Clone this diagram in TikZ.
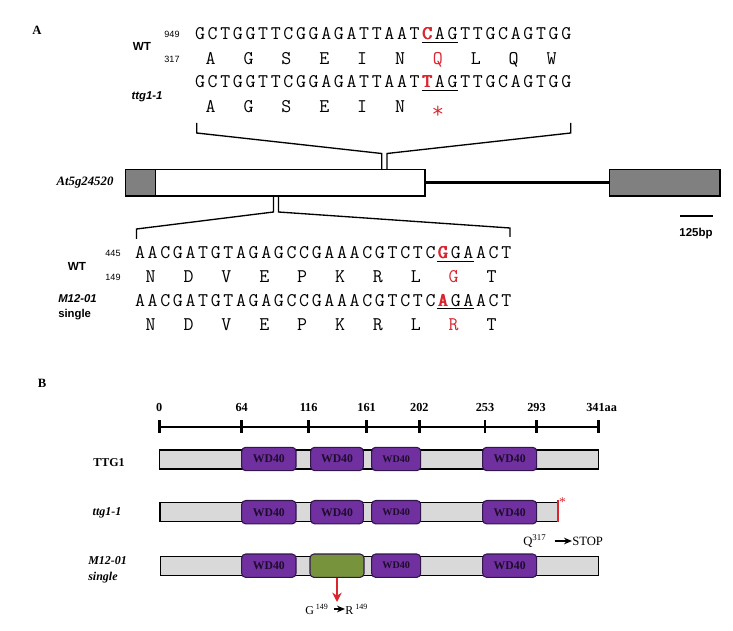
\documentclass[tikz,border=0pt]{standalone}
\usepackage{fontspec}
\setmainfont{Liberation Serif}
\setsansfont{Liberation Sans}
\usetikzlibrary{arrows.meta}
\definecolor{seqred}{RGB}{218,36,46}
\definecolor{wdpurple}{RGB}{112,48,160}
\definecolor{wdedge}{RGB}{50,22,75}
\definecolor{wdtext}{RGB}{30,12,45}
\definecolor{mutgreen}{RGB}{119,147,60}
\definecolor{bargrey}{RGB}{217,217,217}
\definecolor{exongrey}{RGB}{128,128,128}
\newcommand\rbold[1]{\textcolor{seqred}{\makebox[0pt][l]{#1}\kern0.35pt\makebox[0pt][l]{#1}\kern0.35pt#1}}
\newcommand\rplain[1]{\textcolor{seqred}{#1}}
\newcommand\seqpitch{12.63}
\newcommand\drawseq[4]{\foreach \ch [count=\k] in {#4}{\node[mono] (#1-\k) at ({#2+(\k-1)*\seqpitch},#3) {\ch};}}
\newcommand\drawaa[4]{\foreach \ch [count=\k] in {#4}{\node[mono] (#1-\k) at ({#2+(\k-1)*3*\seqpitch},#3) {\ch};}}
\begin{document}
\begin{tikzpicture}[x=0.75pt,y=-0.75pt,
  mono/.style={font=\ttfamily\fontsize{14.5}{16}\selectfont, inner sep=0pt, anchor=base},
  lab/.style={font=\sffamily\bfseries\fontsize{8.8}{10}\selectfont, inner sep=0pt},
  labit/.style={font=\sffamily\bfseries\itshape\fontsize{8.5}{10}\selectfont, inner sep=0pt},
  num/.style={font=\sffamily\fontsize{6.8}{8}\selectfont, inner sep=0pt},
  panel/.style={font=\bfseries\fontsize{9.5}{11}\selectfont, inner sep=0pt},
  uline/.style={line width=0.6pt},
  bracket/.style={line width=1pt},
  exon/.style={draw=black, line width=0.8pt, fill=exongrey},
  tick/.style={font=\bfseries\fontsize{9.2}{11}\selectfont, inner sep=0pt},
  rowlab/.style={font=\bfseries\fontsize{9}{10.5}\selectfont, inner sep=0pt},
  rowlabit/.style={font=\bfseries\itshape\fontsize{9}{10.5}\selectfont, inner sep=0pt, align=left},
  bar/.style 2 args={draw=black, line width=0.8pt, fill=bargrey, minimum width=#1*0.75pt, minimum height=#2*0.75pt, inner sep=0pt},
  wd/.style={draw=wdedge, line width=0.8pt, fill=wdpurple, rounded corners=3pt, minimum width=#1*0.75pt, minimum height=23.4*0.75pt, inner sep=0pt, text=wdtext, font=\bfseries\fontsize{8.8}{10}\selectfont},
  gbox/.style={draw=wdedge, line width=0.8pt, fill=mutgreen, rounded corners=3pt, minimum width=#1*0.75pt, minimum height=23.4*0.75pt, inner sep=0pt},
  note/.style={font=\fontsize{9.5}{11}\selectfont, inner sep=0pt},
  txtarrow/.style={line width=1.2pt, -{Stealth[length=6pt,width=5pt]}},
  redarrow/.style={draw=seqred, line width=1.6pt, -{Stealth[length=7pt,width=7pt]}},
]
\useasboundingbox (0,0) rectangle (733,631);

% ---------------- Panel A ----------------
\node[panel] (pA) at (37,30) {A};

% top sequences
\node[num] (n949) at (172,34) {949};
\node[num] (n317) at (172,59) {317};
\node[lab] (wt1) at (142,46) {WT};
\node[labit] (ttg) at (147,97) {ttg1-1};

\drawseq{sa}{200}{40}{G,C,T,G,G,T,T,C,G,G,A,G,A,T,T,A,A,T,\rbold{C},A,G,T,T,G,C,A,G,T,G,G}
\drawaa{aa}{210.6}{64.5}{A,G,S,E,I,N,\rplain{Q},L,Q,W}
\drawseq{sb}{200}{88}{G,C,T,G,G,T,T,C,G,G,A,G,A,T,T,A,A,T,\rbold{T},A,G,T,T,G,C,A,G,T,G,G}
\drawaa{ab}{210.6}{113}{A,G,S,E,I,N,\rplain{\raisebox{-4.5pt}{\fontseries{l}\fontsize{18}{18}\selectfont *}}}
\draw[uline] ([yshift=-1.8pt]sa-19.base west) -- ([yshift=-1.8pt]sa-21.base east);
\draw[uline] ([yshift=-1.8pt]sb-19.base west) -- ([yshift=-1.8pt]sb-21.base east);

% gene model
\node[font=\bfseries\itshape\fontsize{9.6}{11}\selectfont, inner sep=0pt] (gene) at (85,183) {At5g24520};
\draw[exon] (125.7,169.3) rectangle (155.7,196);
\draw[line width=0.8pt, fill=white] (155.7,169.3) rectangle (425,196);
\draw[line width=2.3pt] (425,182.5) -- (609.3,182.5);
\draw[exon] (609.3,169.3) rectangle (720,196);

% zoom brackets
\draw[bracket] (196.7,123) -- (196.7,133) -- (381.7,153.5) -- (381.7,169.3);
\draw[bracket] (570.7,123) -- (570.7,133) -- (387,153.5) -- (387,169.3);
\draw[bracket] (273.5,196) -- (273.5,212) -- (136.5,229) -- (136.5,239);
\draw[bracket] (278.5,196) -- (278.5,212) -- (510,228) -- (510,237);

% scale bar
\draw[line width=2pt] (680,216) -- (712.7,216);
\node[font=\sffamily\bfseries\fontsize{8.6}{10}\selectfont, inner sep=0pt] (bp) at (696,234) {125bp};

% bottom sequences
\node[num] (n445) at (113,253) {445};
\node[num] (n149) at (113,277) {149};
\node[lab] (wt2) at (77,266) {WT};
\node[labit, anchor=west] (m12) at (58,299) {M12-01};
\node[lab, anchor=west, font=\sffamily\bfseries\fontsize{8.5}{10}\selectfont] (single) at (58,315) {single};

\drawseq{sc}{140}{259}{A,A,C,G,A,T,G,T,A,G,A,G,C,C,G,A,A,A,C,G,T,C,T,C,\rbold{G},G,A,A,C,T}
\drawaa{ac}{150.6}{283}{N,D,V,E,P,K,R,L,\rplain{G},T}
\drawseq{sd}{140}{306.5}{A,A,C,G,A,T,G,T,A,G,A,G,C,C,G,A,A,A,C,G,T,C,T,C,\rbold{A},G,A,A,C,T}
\drawaa{ad}{150.6}{330.5}{N,D,V,E,P,K,R,L,\rplain{R},T}
\draw[uline] ([yshift=-1.8pt]sc-25.base west) -- ([yshift=-1.8pt]sc-27.base east);
\draw[uline] ([yshift=-1.8pt]sd-25.base west) -- ([yshift=-1.8pt]sd-27.base east);

% ---------------- Panel B ----------------
\node[panel] (pB) at (42,383) {B};

\draw[line width=2.2pt] (159.3,427) -- (598.3,427);
\foreach \v in {0,64,116,161,202,253,293,341}{
  \draw[line width=2pt] ({159.3+\v*1.2874},420.5) -- ({159.3+\v*1.2874},433.5);
}
\foreach \v in {0,64,116,161,202,253,293}{
  \node[tick] (lab\v) at ({159.3+\v*1.2874},407) {\v};
}
\node[tick, anchor=west] (lab341) at (586,407) {341aa};

% rows
\node[rowlab] (rTTG) at (109,463) {TTG1};
\node[rowlabit] (rttg) at (107,513) {ttg1-1};
\node[rowlabit, anchor=west] (rm12) at (88,561) {M12-01};
\node[rowlabit, anchor=west] (rsing) at (88,578) {single};

% row 1
\node[bar={439}{19}] (bar1) at (378.8,459.5) {};
\node[wd=54.3] (w11) at (268.85,459) {WD40};
\node[wd=52.6] (w12) at (337,459) {WD40};
\node[wd=49, font=\bfseries\fontsize{7.6}{9}\selectfont] (w13) at (396.2,459) {WD40};
\node[wd=54] (w14) at (509.7,459) {WD40};

% row 2
\node[bar={398}{19}] (bar2) at (359,512.2) {};
\node[wd=54.3] (w21) at (268.85,512.2) {WD40};
\node[wd=52.6] (w22) at (337,512.2) {WD40};
\node[wd=49, font=\bfseries\fontsize{7.6}{9}\selectfont] (w23) at (396.2,512.2) {WD40};
\node[wd=54] (w24) at (509.7,512.2) {WD40};
\draw[draw=seqred, line width=1.6pt] (558,500) -- (558,522);
\node[text=seqred, font=\fontsize{10}{11}\selectfont, inner sep=0pt] (star) at (562.5,502) {*};

\node[note, anchor=west] (q317) at (523,541) {Q\textsuperscript{317}};
\node[note, anchor=west] (stop) at (572,541) {STOP};
\draw[txtarrow] ([xshift=6pt]q317.east |- stop.west) -- (stop.west);

% row 3
\node[bar={438.3}{19}] (bar3) at (379.2,565.7) {};
\node[wd=54.3] (w31) at (268.85,565.7) {WD40};
\node[gbox=54] (g32) at (337,565.7) {};
\node[wd=49, font=\bfseries\fontsize{7.6}{9}\selectfont] (w33) at (396.2,565.7) {WD40};
\node[wd=54] (w34) at (509.7,565.7) {WD40};

\coordinate (gtip) at (337,602);
\draw[redarrow] (g32.south) -- (gtip);
\node[note, anchor=west, font=\fontsize{9}{11}\selectfont] (g149) at (305,609) {G\,\textsuperscript{149}};
\node[note, anchor=west, font=\fontsize{9}{11}\selectfont] (r149) at (345,609) {R\,\textsuperscript{149}};
\draw[txtarrow] ([xshift=4pt]g149.east |- r149.west) -- (r149.west);
\end{tikzpicture}
\end{document}
